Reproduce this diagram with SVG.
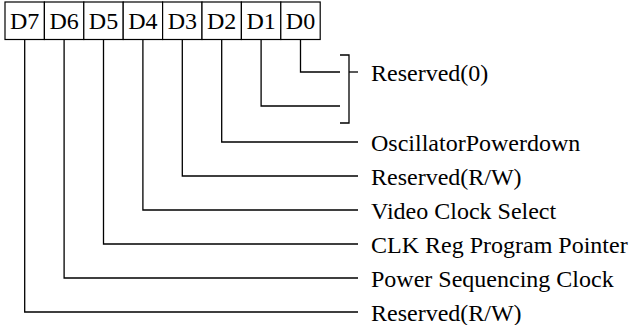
<svg xmlns="http://www.w3.org/2000/svg" width="634" height="325" viewBox="0 0 634 325">
<style>
.b{fill:#fff;stroke:#000;stroke-width:1.2}
.t{font-family:"Liberation Serif","Times New Roman",serif;font-size:24px;fill:#000}
.c{text-anchor:middle}
.w{fill:none;stroke:#000;stroke-width:1.3}
</style>
<rect width="634" height="325" fill="#fff"/>
<g id="register">
<rect class="b" x="5" y="2" width="39.4" height="37.5"/>
<rect class="b" x="44.4" y="2" width="39.4" height="37.5"/>
<rect class="b" x="83.8" y="2" width="39.4" height="37.5"/>
<rect class="b" x="123.2" y="2" width="39.4" height="37.5"/>
<rect class="b" x="162.6" y="2" width="39.4" height="37.5"/>
<rect class="b" x="202" y="2" width="39.4" height="37.5"/>
<rect class="b" x="241.4" y="2" width="39.4" height="37.5"/>
<rect class="b" x="280.8" y="2" width="39.4" height="37.5"/>
<text class="t c" x="24.7" y="29">D7</text>
<text class="t c" x="64.1" y="29">D6</text>
<text class="t c" x="103.5" y="29">D5</text>
<text class="t c" x="142.9" y="29">D4</text>
<text class="t c" x="182.3" y="29">D3</text>
<text class="t c" x="221.7" y="29">D2</text>
<text class="t c" x="261.1" y="29">D1</text>
<text class="t c" x="300.5" y="29">D0</text>
</g>
<g id="connectors">
<polyline class="w" points="300.5,39.5 300.5,72 340,72"/>
<polyline class="w" points="261.1,39.5 261.1,106 340,106"/>
<polyline class="w" points="340,55 349,55 349,123 340,123"/>
<line class="w" x1="349" y1="72" x2="358" y2="72"/>
<polyline class="w" points="221.7,39.5 221.7,142 358,142"/>
<polyline class="w" points="182.3,39.5 182.3,176 358,176"/>
<polyline class="w" points="142.9,39.5 142.9,210 358,210"/>
<polyline class="w" points="103.5,39.5 103.5,244 358,244"/>
<polyline class="w" points="64.1,39.5 64.1,278 358,278"/>
<polyline class="w" points="24.7,39.5 24.7,312 358,312"/>
</g>
<g id="labels">
<text class="t" x="371" y="80.5">Reserved(0)</text>
<text class="t" x="371" y="150.5">OscillatorPowerdown</text>
<text class="t" x="371" y="184.5">Reserved(R/W)</text>
<text class="t" x="371" y="218.5">Video Clock Select</text>
<text class="t" x="371" y="252.5">CLK Reg Program Pointer</text>
<text class="t" x="371" y="286.5">Power Sequencing Clock</text>
<text class="t" x="371" y="320.5">Reserved(R/W)</text>
</g>
</svg>
